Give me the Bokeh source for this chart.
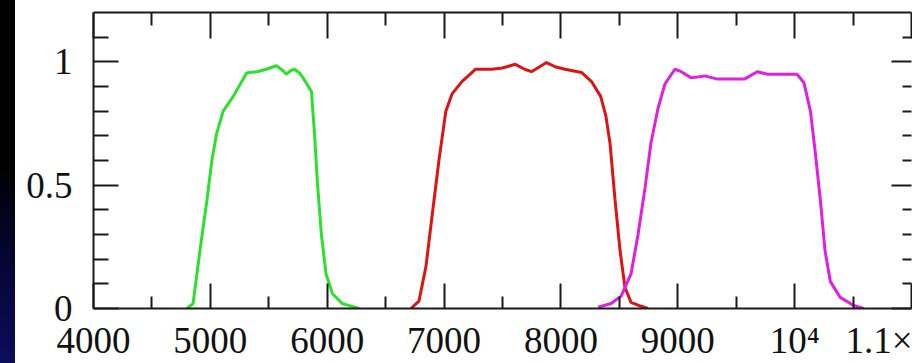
from bokeh.plotting import figure
from bokeh.models import Range1d, FixedTicker, LinearAxis, Div
from bokeh.layouts import row
from bokeh.embed import file_html
from bokeh.resources import INLINE

# ---- data (wavelength in Angstrom, transmission) ----
green_x = [4800, 4852, 4911, 4971, 5013, 5054, 5110, 5196, 5310, 5400, 5480, 5565, 5620,
           5650, 5690, 5720, 5763, 5800, 5865, 5891, 5917, 5950, 5990, 6045, 6130, 6275]
green_y = [0.0, 0.02, 0.235, 0.44, 0.60, 0.71, 0.80, 0.86, 0.955, 0.96, 0.97, 0.984, 0.965,
           0.95, 0.965, 0.97, 0.955, 0.93, 0.88, 0.71, 0.505, 0.30, 0.14, 0.06, 0.02, 0.0]

red_x = [6717, 6785, 6845, 6896, 6956, 7015, 7068, 7153, 7270, 7407, 7500, 7610, 7690, 7748,
         7800, 7877, 7950, 8034, 8176, 8262, 8340, 8385, 8420, 8463, 8506, 8548, 8600, 8680, 8745]
red_y = [0.0, 0.03, 0.17, 0.37, 0.60, 0.80, 0.87, 0.92, 0.97, 0.97, 0.975, 0.99, 0.97, 0.96,
         0.975, 0.997, 0.98, 0.97, 0.957, 0.92, 0.86, 0.78, 0.67, 0.44, 0.235, 0.085, 0.025, 0.01, 0.0]

mag_x = [8318, 8430, 8515, 8600, 8660, 8720, 8770, 8830, 8890, 8975, 9030, 9115, 9230, 9340,
         9570, 9680, 9765, 10020, 10080, 10135, 10175, 10220, 10260, 10305, 10390, 10505, 10590]
mag_y = [0.005, 0.02, 0.05, 0.14, 0.30, 0.49, 0.67, 0.81, 0.91, 0.97, 0.96, 0.935, 0.943, 0.93,
         0.93, 0.96, 0.95, 0.95, 0.915, 0.80, 0.64, 0.44, 0.235, 0.11, 0.045, 0.012, 0.0]

x_major = [4000, 5000, 6000, 7000, 8000, 9000, 10000, 11000]
x_minor = [4500, 5500, 6500, 7500, 8500, 9500, 10500]
x_labels = ["4000", "5000", "6000", "7000", "8000", "9000", "10\u2074", "1.1\u00d7"]
y_major = [0, 0.5, 1]
y_minor = [0.1, 0.2, 0.3, 0.4, 0.6, 0.7, 0.8, 0.9, 1.1]
y_labels = ["0", "0.5", "1"]

FONT = "Liberation Serif"
FS = "37px"

p = figure(width=897, height=363, output_backend="svg", toolbar_location=None,
           x_range=Range1d(4000, 11000), y_range=Range1d(0, 1.2),
           min_border_left=78, min_border_right=1, min_border_top=12, min_border_bottom=55)
p.background_fill_color = "white"
p.border_fill_color = "white"
p.outline_line_color = None
p.xgrid.visible = False
p.ygrid.visible = False

def style(ax, major_in, minor_in):
    ax.axis_line_color = "#1a1a1a"
    ax.axis_line_width = 2
    ax.major_tick_line_color = "#1a1a1a"
    ax.major_tick_line_width = 2
    ax.minor_tick_line_color = "#1a1a1a"
    ax.minor_tick_line_width = 2
    ax.major_tick_in = major_in
    ax.major_tick_out = 0
    ax.minor_tick_in = minor_in
    ax.minor_tick_out = 0
    ax.major_label_text_font = FONT
    ax.major_label_text_color = "#111111"

xb = p.xaxis[0]
xb.ticker = FixedTicker(ticks=x_major, minor_ticks=x_minor)
xb.major_label_overrides = {t: l for t, l in zip(x_major, x_labels)}
style(xb, 25, 12)
xb.major_label_text_font_size = FS
xb.major_label_standoff = 11

yl = p.yaxis[0]
yl.ticker = FixedTicker(ticks=y_major, minor_ticks=y_minor)
yl.major_label_overrides = {t: l for t, l in zip(y_major, y_labels)}
style(yl, 25, 15)
yl.major_label_text_font_size = FS
yl.major_label_standoff = 21

xt = LinearAxis(ticker=FixedTicker(ticks=x_major, minor_ticks=x_minor))
style(xt, 26, 13)
xt.major_label_overrides = {t: "" for t in x_major}
xt.major_label_text_font_size = "1px"
xt.major_label_standoff = 0
p.add_layout(xt, "above")

yr = LinearAxis(ticker=FixedTicker(ticks=y_major, minor_ticks=y_minor))
style(yr, 20, 9)
yr.axis_line_color = None
yr.major_label_overrides = {t: "" for t in y_major}
yr.major_label_text_font_size = "1px"
yr.major_label_standoff = 0
p.add_layout(yr, "right")

p.line(green_x, green_y, line_color="#2ee02e", line_width=3)
p.line(red_x, red_y, line_color="#dc1414", line_width=3)
p.line(mag_x, mag_y, line_color="#e020e0", line_width=3)

strip = Div(text="", width=15, height=363,
            styles={"background": "linear-gradient(to bottom, #000000 0%, #000000 45%, #06063a 75%, #0c0c5c 100%)",
                    "margin": "0", "padding": "0"})

layout = row(strip, p, spacing=0)
open("out.html", "w").write(file_html(layout, INLINE))
